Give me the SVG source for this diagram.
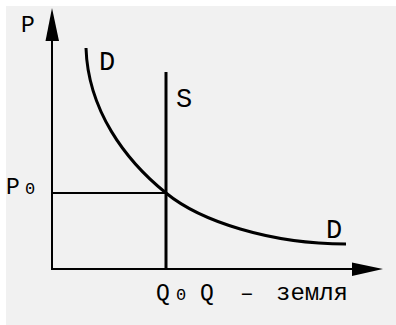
<svg xmlns="http://www.w3.org/2000/svg" width="396" height="325" viewBox="0 0 396 325">
  <style>
    .ax { stroke: #000; stroke-width: 2; fill: none; }
    .thick { stroke: #000; stroke-width: 3; fill: none; }
    .lbl { font-family: "Liberation Mono", "Courier New", monospace; fill: #000; }
    .big { font-size: 27px; }
    .mid { font-size: 23px; }
    .low { font-size: 24px; }
    .sub { font-size: 17px; }
  </style>
  <rect x="0" y="0" width="396" height="325" fill="#ffffff"/>
  <rect x="6" y="6" width="390" height="319" fill="#f1f1f1"/>
  <g id="connectors">
    <line class="ax" x1="52" y1="270" x2="52" y2="38"/>
    <polygon points="52,8 45.5,41 59,41" fill="#000"/>
    <line class="ax" x1="51" y1="269" x2="355" y2="269"/>
    <polygon points="383,269 352,262.5 352,276" fill="#000"/>
    <line class="ax" x1="52" y1="193" x2="166" y2="193"/>
  </g>
  <g id="supply">
    <line class="thick" x1="166" y1="72" x2="166" y2="270"/>
    <text class="lbl big" x="176" y="107">S</text>
  </g>
  <g id="demand">
    <path class="thick" d="M86,48 C88,110 125,160 166,193 C200,221 270,244 346,244"/>
    <text class="lbl big" x="99" y="70">D</text>
    <text class="lbl big" x="326" y="238">D</text>
  </g>
  <g id="axis-labels">
    <text class="lbl mid" x="21" y="32">P</text>
    <text class="lbl mid" x="6" y="194">P</text>
    <text class="lbl sub" x="25" y="194">0</text>
    <text class="lbl mid" x="156" y="300">Q</text>
    <text class="lbl sub" x="176" y="300">0</text>
    <text class="lbl mid" x="200" y="300">Q</text>
    <text class="lbl mid" x="240" y="300">–</text>
    <text class="lbl low" x="276" y="300">земля</text>
  </g>
</svg>
